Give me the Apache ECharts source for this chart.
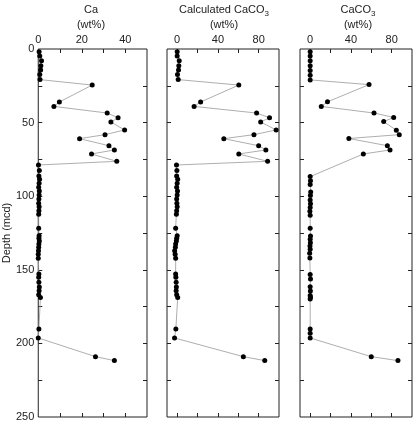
<!DOCTYPE html>
<html>
<head>
<meta charset="utf-8">
<script src="https://cdn.jsdelivr.net/npm/echarts/dist/echarts.min.js"></script>
<style>
  html, body { margin: 0; padding: 0; background: #fff; }
  #chart { width: 415px; height: 424px; }
</style>
</head>
<body>
<div id="chart"></div>
<script>
// depths (mcd) of the Ca / calculated CaCO3 samples
const depthA = [1.8, 4.8, 7.9, 11.3, 14.3, 17.4, 20.8, 24.5, 36.0, 39.0, 43.5, 46.7, 49.6, 55.0, 58.2, 60.9,
  65.7, 68.6, 71.3, 76.3, 78.8, 82.6, 86.3, 88.5, 91.2, 94.0, 96.5, 99.2, 101.9, 104.8, 107.1, 109.8, 112.3,
  121.8, 126.8, 128.6, 130.4, 132.5, 134.7, 137.0, 139.5, 142.2, 152.9, 155.1, 158.5, 161.7, 164.2, 166.9,
  168.9, 190.2, 196.3, 209.0, 211.7];
const caWt = [0.4, 0.7, 1.5, 1.2, 1.1, 0.7, 0.8, 24.8, 9.7, 7.2, 31.7, 36.7, 33.4, 39.7, 30.7, 19.0,
  32.5, 35.0, 24.5, 36.1, 0.1, 0.5, 0.3, 0.6, 0.4, 0.2, 0.5, 0.4, 0.3, 0.2, 0.4, 0.3, 0.2,
  0.2, 0.4, 0.3, 0.5, 0.3, 0.2, 0.1, 0.0, 0.0, 0.3, 0.2, 0.3, 0.5, 0.4, 0.2,
  1.0, 0.3, 0.0, 26.3, 35.0];
const calcWt = [0.0, 0.0, 2.0, 1.6, 1.3, 0.3, 1.0, 60.5, 23.0, 16.6, 78.0, 90.7, 82.0, 97.2, 75.4, 45.8,
  80.0, 87.1, 60.5, 88.8, -0.7, -0.3, -0.5, 0.5, 0.0, -0.5, 0.3, 0.0, -0.5, -0.3, 0.0, -0.5, -0.8,
  -1.5, 0.0, -0.5, -0.8, -1.5, -1.8, -2.5, -2.0, -1.5, -1.5, -1.3, -1.0, -0.8, -1.0, -0.5,
  0.5, -1.3, -2.6, 65.0, 86.0];
// depths (mcd) of the measured CaCO3 samples
const depthB = [1.8, 4.8, 7.9, 11.3, 14.6, 17.8, 21.0, 24.2, 35.9, 39.0, 43.5, 46.5, 49.3, 55.2, 58.2, 60.8,
  65.7, 68.6, 71.3, 86.7, 89.5, 92.0, 97.1, 99.6, 102.6, 105.1, 107.6, 110.3, 113.0, 121.8, 127.0, 129.3,
  131.6, 133.8, 136.1, 138.8, 142.0, 153.2, 156.3, 161.5, 164.4, 167.4, 168.7, 169.8, 190.2, 193.1, 196.3,
  209.0, 211.7];
const caco3Wt = [0, 0, 0, 0, 0, 0, 0, 57.8, 17.0, 10.9, 62.7, 82.0, 72.2, 84.6, 87.5, 38.0,
  75.8, 78.4, 52.2, 0.0, 0.3, 0.0, 0.5, 0.2, 0.0, 0.3, 0.0, -0.3, 0.0, 0.0, 0.3, 0.0,
  0.2, -0.2, 0.0, -0.5, -0.3, 0.0, 0.3, 0.0, 0.2, 0.0, 0.3, 0.0, 0.0, 0.0, 0.0,
  60.0, 86.2];

const depthTicks = [25, 50, 75, 100, 125, 150, 175, 200, 225];
const depthLabels = [0, 50, 100, 150, 200, 250];
const caTicks = [10, 20, 30, 40];
const caLabels = [0, 20, 40];
const pctTicks = [0, 20, 40, 60, 80];
const pctLabels = [0, 40, 80];

const FONT = 'Liberation Sans, Arial, sans-serif';
const panels = [
  { left: 36, width: 111, min: 0, max: 50, ticks: caTicks, labels: caLabels },
  { left: 167, width: 112, min: -10, max: 100, ticks: pctTicks, labels: pctLabels },
  { left: 300, width: 112, min: -10, max: 100, ticks: pctTicks, labels: pctLabels }
];

let grid = [], xAxis = [], yAxis = [];
panels.forEach(function (p, i) {
  grid.push({
    left: p.left, top: 49, width: p.width, height: 368,
    show: true, borderColor: '#222', borderWidth: 1, backgroundColor: 'transparent'
  });
  ['top', 'bottom'].forEach(function (pos) {
    xAxis.push({
      gridIndex: i, type: 'value', position: pos, min: p.min, max: p.max,
      axisLine: { show: false, onZero: false },
      splitLine: { show: false },
      axisTick: { inside: true, length: 4, lineStyle: { color: '#222' }, customValues: p.ticks },
      axisLabel: {
        show: pos === 'top', customValues: p.labels,
        fontSize: 11, fontFamily: FONT, color: '#222', margin: 4
      }
    });
  });
  ['left', 'right'].forEach(function (pos) {
    yAxis.push({
      gridIndex: i, type: 'value', position: pos, inverse: true, min: 0, max: 250,
      name: (i === 0 && pos === 'left') ? 'Depth (mcd)' : '',
      nameLocation: 'middle', nameGap: 25, nameRotate: 90,
      nameTextStyle: { fontSize: 11, fontFamily: FONT, color: '#222' },
      axisLine: { show: false, onZero: false },
      splitLine: { show: false },
      axisTick: { inside: true, length: 4, lineStyle: { color: '#222' }, customValues: depthTicks },
      axisLabel: {
        show: i === 0 && pos === 'left', customValues: depthLabels,
        fontSize: 11, fontFamily: FONT, color: '#222', margin: 4
      }
    });
  });
});

function pairs(xs, ys) {
  return xs.map(function (v, k) { return [v, ys[k]]; });
}

function series(i, values, depths) {
  return {
    type: 'line',
    xAxisIndex: i * 2, yAxisIndex: i * 2,
    data: pairs(values, depths),
    symbol: 'circle', symbolSize: 5, showAllSymbol: true,
    itemStyle: { color: '#000' },
    lineStyle: { color: '#999', width: 0.8 },
    clip: false
  };
}

const titleStyle = { font: '11px ' + FONT, fill: '#222', textAlign: 'center', textVerticalAlign: 'middle' };
function title(x, y, text) {
  return { type: 'text', x: x, y: y, style: Object.assign({ text: text }, titleStyle) };
}
function subTitle(x, y, main) {
  return {
    type: 'text', x: x, y: y,
    style: {
      text: '{n|' + main + '}{s|3}',
      textAlign: 'center', textVerticalAlign: 'middle', fill: '#222',
      rich: {
        n: { fontSize: 11, fontFamily: FONT, color: '#222', lineHeight: 14 },
        s: { fontSize: 8, fontFamily: FONT, color: '#222', lineHeight: 14, padding: [7, 0, 0, 0] }
      }
    }
  };
}

const chart = echarts.init(document.getElementById('chart'));
chart.setOption({
  animation: false,
  grid: grid,
  xAxis: xAxis,
  yAxis: yAxis,
  series: [
    series(0, caWt, depthA),
    series(1, calcWt, depthA),
    series(2, caco3Wt, depthB)
  ],
  graphic: [
    title(91, 10, 'Ca'),
    title(91, 25, '(wt%)'),
    subTitle(224, 10, 'Calculated CaCO'),
    title(224, 25, '(wt%)'),
    subTitle(358, 10, 'CaCO'),
    title(358, 25, '(wt%)')
  ]
});
</script>
</body>
</html>
